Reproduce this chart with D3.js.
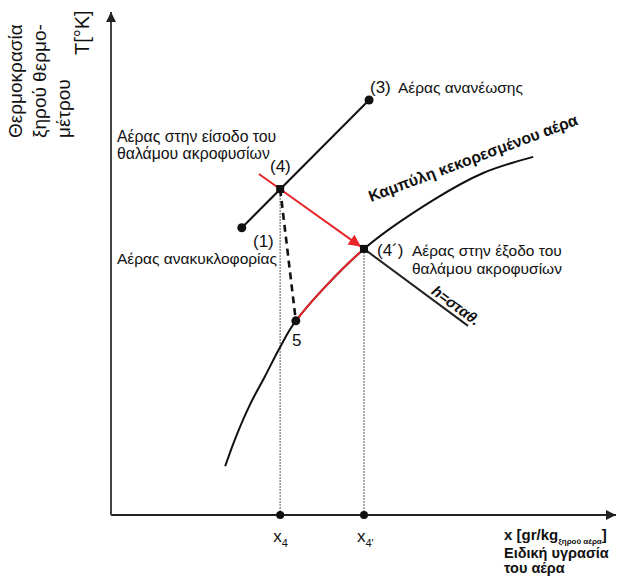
<!DOCTYPE html>
<html>
<head>
<meta charset="utf-8">
<script src="https://cdn.jsdelivr.net/npm/d3@7"></script>
<style>
  body { margin: 0; background: #fff; }
  svg { display: block; font-family: "Liberation Sans", Arial, sans-serif; }
</style>
</head>
<body>
<script>
(function () {

    //state points in chart units (x = specific humidity, y = dry-bulb temperature)
    var pointNames = ["1", "3", "4", "4p", "5"];
    var pointX = [2.59, 5.11, 3.35, 5.01, 3.66];
    var pointY = [5.71, 8.25, 6.48, 5.29, 3.86];

    //saturation curve
    var satX = [2.26, 2.48, 2.75, 3.05, 3.35, 3.66, 5.01, 6.38, 7.37, 8.36];
    var satY = [0.97, 1.57, 2.19, 2.76, 3.34, 3.86, 5.29, 6.26, 6.80, 7.12];

    //start of the red arrow and end of the constant enthalpy line
    var redStart = [2.93, 6.78];
    var hEnd = [7.07, 3.76];

    //axis marks
    var tickNames = ["x", "x"];
    var tickSubs = ["4", "4'"];
    var tickX = [3.35, 5.01];

    var width = 620, height = 577;

    var x = d3.scaleLinear().domain([0, 10]).range([111, 616]);
    var y = d3.scaleLinear().domain([0, 10]).range([515, 12]);

    var svg = d3.select("body").append("svg")
        .attr("width", width)
        .attr("height", height);

    var defs = svg.append("defs");
    defs.append("marker")
        .attr("id", "axisArrow")
        .attr("viewBox", "0 0 10 10")
        .attr("refX", 10).attr("refY", 5)
        .attr("markerWidth", 5).attr("markerHeight", 5)
        .attr("markerUnits", "strokeWidth")
        .attr("orient", "auto")
        .append("path").attr("d", "M0,0 L10,5 L0,10 z").attr("fill", "#222");
    defs.append("marker")
        .attr("id", "redArrow")
        .attr("viewBox", "0 0 10 10")
        .attr("refX", 10).attr("refY", 5)
        .attr("markerWidth", 7).attr("markerHeight", 6)
        .attr("markerUnits", "strokeWidth")
        .attr("orient", "auto")
        .append("path").attr("d", "M0,0 L10,5 L0,10 z").attr("fill", "#e8262a");

    var pt = {};
    pointNames.forEach(function (n, i) { pt[n] = [pointX[i], pointY[i]]; });

    //vertical dotted guides
    svg.selectAll(".guide")
        .data(["4", "4p"])
        .enter().append("line")
        .attr("class", "guide")
        .attr("x1", function (d) { return x(pt[d][0]); })
        .attr("x2", function (d) { return x(pt[d][0]); })
        .attr("y1", function (d) { return y(pt[d][1]); })
        .attr("y2", y(0))
        .attr("stroke", "#999")
        .attr("stroke-width", 1.6)
        .attr("stroke-dasharray", "2,1");

    //axes
    svg.append("line")
        .attr("x1", x(0)).attr("y1", y(0))
        .attr("x2", x(10)).attr("y2", y(0))
        .attr("stroke", "#222").attr("stroke-width", 2)
        .attr("marker-end", "url(#axisArrow)");
    svg.append("line")
        .attr("x1", x(0)).attr("y1", y(0))
        .attr("x2", x(0)).attr("y2", y(10))
        .attr("stroke", "#444").attr("stroke-width", 2)
        .attr("marker-end", "url(#axisArrow)");

    //saturation curve
    var satData = satX.map(function (v, i) { return [v, satY[i]]; });
    var line = d3.line()
        .x(function (d) { return x(d[0]); })
        .y(function (d) { return y(d[1]); });
    var curve = d3.line()
        .x(function (d) { return x(d[0]); })
        .y(function (d) { return y(d[1]); })
        .curve(d3.curveCatmullRom.alpha(0.5));

    svg.append("path")
        .datum(satData)
        .attr("d", curve)
        .attr("fill", "none")
        .attr("stroke", "#111")
        .attr("stroke-width", 2);

    //red part of the curve, between 5 and 4'
    defs.append("clipPath").attr("id", "redClip")
        .append("rect")
        .attr("x", x(pt["5"][0]))
        .attr("y", 0)
        .attr("width", x(pt["4p"][0]) - x(pt["5"][0]))
        .attr("height", height);
    svg.append("path")
        .datum(satData)
        .attr("d", curve)
        .attr("clip-path", "url(#redClip)")
        .attr("fill", "none")
        .attr("stroke", "#e8262a")
        .attr("stroke-width", 2);

    //mixing line 1 - 3
    svg.append("path")
        .datum([pt["1"], pt["3"]])
        .attr("d", line)
        .attr("fill", "none").attr("stroke", "#111").attr("stroke-width", 2);

    //constant enthalpy line
    svg.append("path")
        .datum([pt["4p"], hEnd])
        .attr("d", line)
        .attr("fill", "none").attr("stroke", "#222").attr("stroke-width", 2);

    //dashed 4 - 5
    svg.append("path")
        .datum([pt["4"], pt["5"]])
        .attr("d", line)
        .attr("fill", "none").attr("stroke", "#111")
        .attr("stroke-width", 2.6).attr("stroke-dasharray", "7,5");

    //red arrow to 4'
    var ax0 = x(redStart[0]), ay0 = y(redStart[1]);
    var ax1 = x(pt["4p"][0]), ay1 = y(pt["4p"][1]);
    var len = Math.hypot(ax1 - ax0, ay1 - ay0);
    svg.append("line")
        .attr("x1", ax0).attr("y1", ay0)
        .attr("x2", ax1 - (ax1 - ax0) / len * 4)
        .attr("y2", ay1 - (ay1 - ay0) / len * 4)
        .attr("stroke", "#e8262a").attr("stroke-width", 2)
        .attr("marker-end", "url(#redArrow)");

    //state point markers
    svg.selectAll(".dot")
        .data(["1", "3", "5"])
        .enter().append("circle")
        .attr("class", "dot")
        .attr("cx", function (d) { return x(pt[d][0]); })
        .attr("cy", function (d) { return y(pt[d][1]); })
        .attr("r", 4.5)
        .attr("fill", "#111");
    svg.selectAll(".sq")
        .data(["4", "4p"])
        .enter().append("rect")
        .attr("class", "sq")
        .attr("x", function (d) { return x(pt[d][0]) - 4; })
        .attr("y", function (d) { return y(pt[d][1]) - 4; })
        .attr("width", 8).attr("height", 8)
        .attr("fill", "#111");

    //axis tick dots and labels
    svg.selectAll(".tdot")
        .data(tickX)
        .enter().append("circle")
        .attr("cx", function (d) { return x(d); })
        .attr("cy", y(0))
        .attr("r", 4)
        .attr("fill", "#111");
    var tl = svg.selectAll(".tlab")
        .data(tickX)
        .enter().append("text")
        .attr("x", function (d) { return x(d) - 7; })
        .attr("y", 542)
        .attr("font-size", 17)
        .attr("fill", "#111");
    tl.append("tspan").text(function (d, i) { return tickNames[i]; });
    tl.append("tspan").attr("dy", 5).attr("font-size", 11)
        .text(function (d, i) { return tickSubs[i]; });

    //text helper
    function label(px, py, str, size, weight) {
        return svg.append("text")
            .attr("x", px).attr("y", py)
            .attr("font-size", size)
            .attr("font-weight", weight || "normal")
            .attr("fill", "#111")
            .text(str);
    }

    //y axis titles
    svg.append("text")
        .attr("transform", "translate(89,55) rotate(-90)")
        .attr("font-size", 20).attr("fill", "#111")
        .text("T[°K]");
    ["Θερμοκρασία", "ξηρού θερμο-", "μέτρου"].forEach(function (s, i) {
        svg.append("text")
            .attr("transform", "translate(" + (22 + i * 24) + ",138) rotate(-90)")
            .attr("font-size", 19).attr("fill", "#111")
            .text(s);
    });

    //point labels
    label(370, 93, "(3)", 17);
    label(398, 93, "Αέρας ανανέωσης", 15.5);
    label(117, 142, "Αέρας στην είσοδο του", 15.8);
    label(117, 159, "θαλάμου ακροφυσίων", 15.8);
    label(270, 172, "(4)", 17);
    label(253, 247, "(1)", 17);
    label(117, 264, "Αέρας ανακυκλοφορίας", 15.5);
    label(377, 256, "(4´)", 17);
    label(412, 256, "Αέρας στην έξοδο του", 15.5);
    label(412, 274, "θαλάμου ακροφυσίων", 15.5);
    label(292, 346, "5", 17);

    //curve and enthalpy line titles
    svg.append("text")
        .attr("transform", "translate(371,202) rotate(-20.5)")
        .attr("font-size", 15.8).attr("font-weight", "bold").attr("fill", "#111")
        .text("Καμπύλη κεκορεσμένου αέρα");
    var hAng = Math.atan2(y(hEnd[1]) - ay1, x(hEnd[0]) - ax1) * 180 / Math.PI;
    svg.append("text")
        .attr("transform", "translate(" + (ax1 + 64) + "," + (ay1 + 64 * Math.tan(hAng * Math.PI / 180)) + ") rotate(" + hAng + ")")
        .attr("dy", -4)
        .attr("font-size", 15).attr("font-weight", "bold").attr("font-style", "italic")
        .attr("fill", "#111")
        .text("h=σταθ.");

    //x axis title
    var xt = label(504, 540, "x [gr/kg", 15, "bold");
    xt.append("tspan").attr("dy", 4).attr("font-size", 8).text("ξηρού αέρα");
    xt.append("tspan").attr("dy", -4).text("]");
    label(504, 558, "Ειδική υγρασία", 14.5, "bold");
    label(504, 573, "του αέρα", 14.5, "bold");

})();
</script>
</body>
</html>
